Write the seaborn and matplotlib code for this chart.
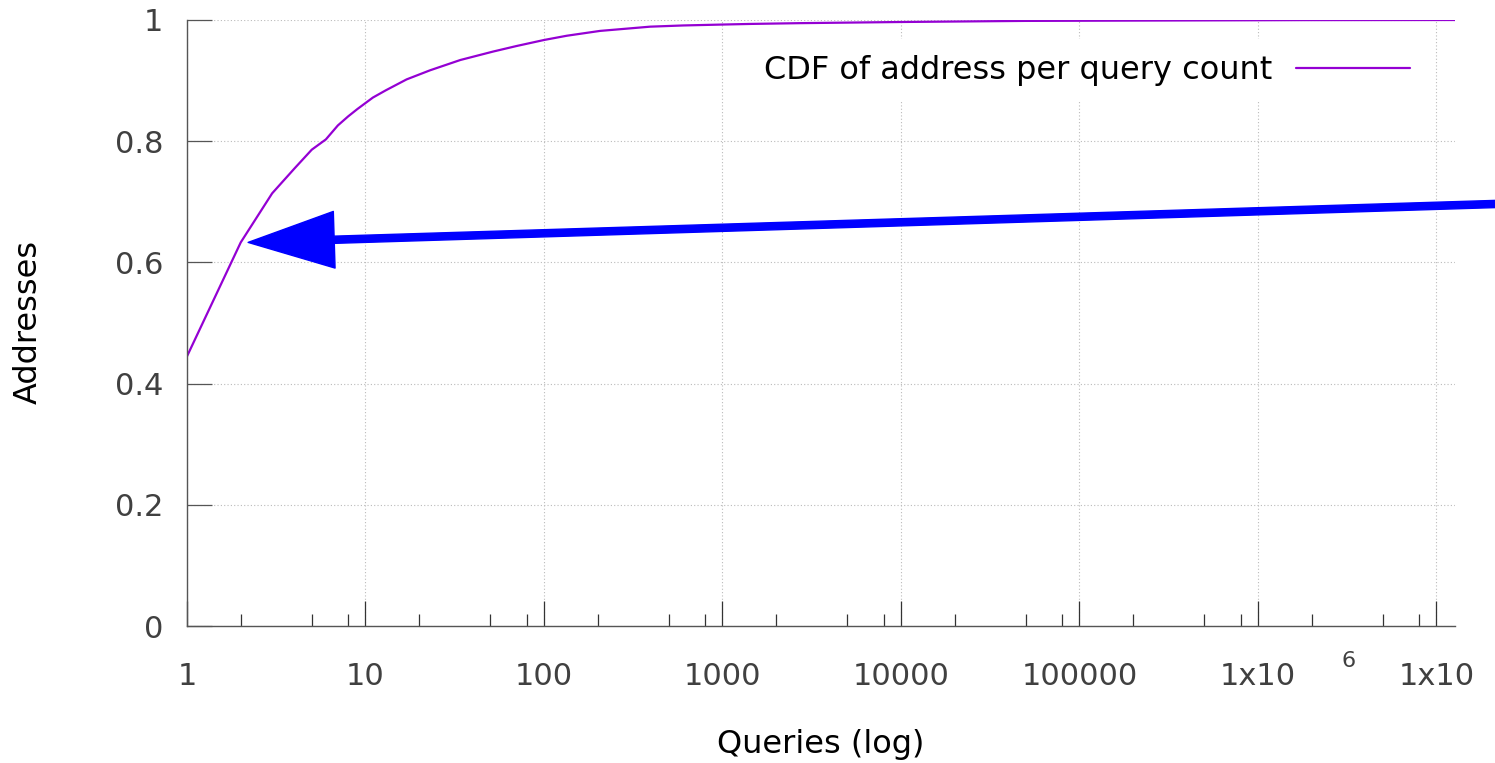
import numpy as np
import pandas as pd
import matplotlib
matplotlib.use("Agg")
import matplotlib.pyplot as plt
import matplotlib.transforms as mtransforms
import seaborn as sns

# ---- data ----
queries = [1, 2, 3, 4, 5, 6, 7, 8, 9, 10, 11, 13, 17, 23, 34, 52, 70, 100, 134,
           206, 393, 603, 1000, 1426, 2717, 10000, 49500, 1.8e6, 1.27e7]
cdf = [0.445, 0.633, 0.714, 0.755, 0.786, 0.803, 0.826, 0.841, 0.853, 0.863,
       0.872, 0.884, 0.902, 0.917, 0.934, 0.948, 0.957, 0.967, 0.974, 0.982,
       0.989, 0.991, 0.9925, 0.9935, 0.9948, 0.9967, 0.9985, 0.9998, 1.0]
series_label = "CDF of address per query count"

x_major = [1, 10, 100, 1000, 10000, 100000, 1e6, 1e7]
x_major_labels = ["1", "10", "100", "1000", "10000", "100000", "1x10", "1x10"]
x_minor = [m * 10 ** e for e in range(0, 7) for m in (2, 5, 8)]
y_major = [0, 0.2, 0.4, 0.6, 0.8, 1.0]
y_major_labels = ["0", "0.2", "0.4", "0.6", "0.8", "1"]
x_limits = (1, 1.27e7)

arrow_tip = (2.2, 0.633)
arrow_tail_fig = (1.0, 1 - 204 / 763)

df = pd.DataFrame({"Queries": queries, "CDF": cdf})

sns.set_theme(style="white")
plt.rcParams["font.family"] = ["DejaVu Sans"]

fig = plt.figure(figsize=(14.95, 7.63), dpi=100)
ax = fig.add_axes([187 / 1495, 1 - 626 / 763, (1455 - 187) / 1495, (626 - 20) / 763])

sns.lineplot(data=df, x="Queries", y="CDF", ax=ax, color="#9400D3",
             linewidth=1.6, label=series_label)

ax.set_xscale("log")
ax.set_xlim(*x_limits)
ax.set_ylim(0, 1)

ax.set_xticks(x_major)
ax.set_xticklabels(x_major_labels)
ax.set_xticks(x_minor, minor=True)
ax.set_xticklabels([], minor=True)
ax.set_yticks(y_major)
ax.set_yticklabels(y_major_labels)

ax.tick_params(axis="x", which="both", bottom=True, top=False)
ax.tick_params(axis="y", which="both", left=True, right=False)
ax.tick_params(axis="x", which="major", direction="in", length=18, width=0.9,
               color="#333333", labelsize=22, labelcolor="#404040", pad=26)
ax.tick_params(axis="x", which="minor", direction="in", length=9, width=0.9,
               color="#333333")
ax.tick_params(axis="y", which="major", direction="in", length=18, width=0.9,
               color="#555555", labelsize=22, labelcolor="#404040", pad=17)

ax.grid(True, which="major", linestyle=(0, (1, 2)), color="#bbbbbb", linewidth=0.8)
ax.set_axisbelow(True)

for side in ("top", "right"):
    ax.spines[side].set_visible(False)
for side in ("left", "bottom"):
    ax.spines[side].set_color("#555555")
    ax.spines[side].set_linewidth(1.0)

ax.set_xlabel("Queries (log)", fontsize=23, color="black")
ax.xaxis.set_label_coords(0.5, -0.196)
ax.xaxis.label.set_va("center")
ax.set_ylabel("Addresses", fontsize=23, color="black")
ax.yaxis.set_label_coords((28 - 187) / 1268, 0.501)
ax.yaxis.label.set_va("center")

# exponent text as rendered in the reference
trans = mtransforms.blended_transform_factory(ax.transData, ax.transAxes)
ax.text(10 ** 6.505, -0.057, "6", transform=trans, ha="center", va="center",
        fontsize=16, color="#404040")

leg = ax.legend(loc="upper right", bbox_to_anchor=(0.977, 0.969), markerfirst=False,
                handlelength=3.57, handletextpad=0.75, frameon=True, fancybox=False,
                edgecolor="none", facecolor="white", framealpha=1, fontsize=23,
                borderpad=0.5, borderaxespad=0)
for t in leg.get_texts():
    t.set_color("black")

ax.annotate("", xy=arrow_tip, xycoords="data", xytext=arrow_tail_fig,
            textcoords="figure fraction",
            arrowprops=dict(color="#0000ff", width=5.2, headwidth=40.8,
                            headlength=62, shrink=0))

fig.savefig("out.png", dpi=100)
